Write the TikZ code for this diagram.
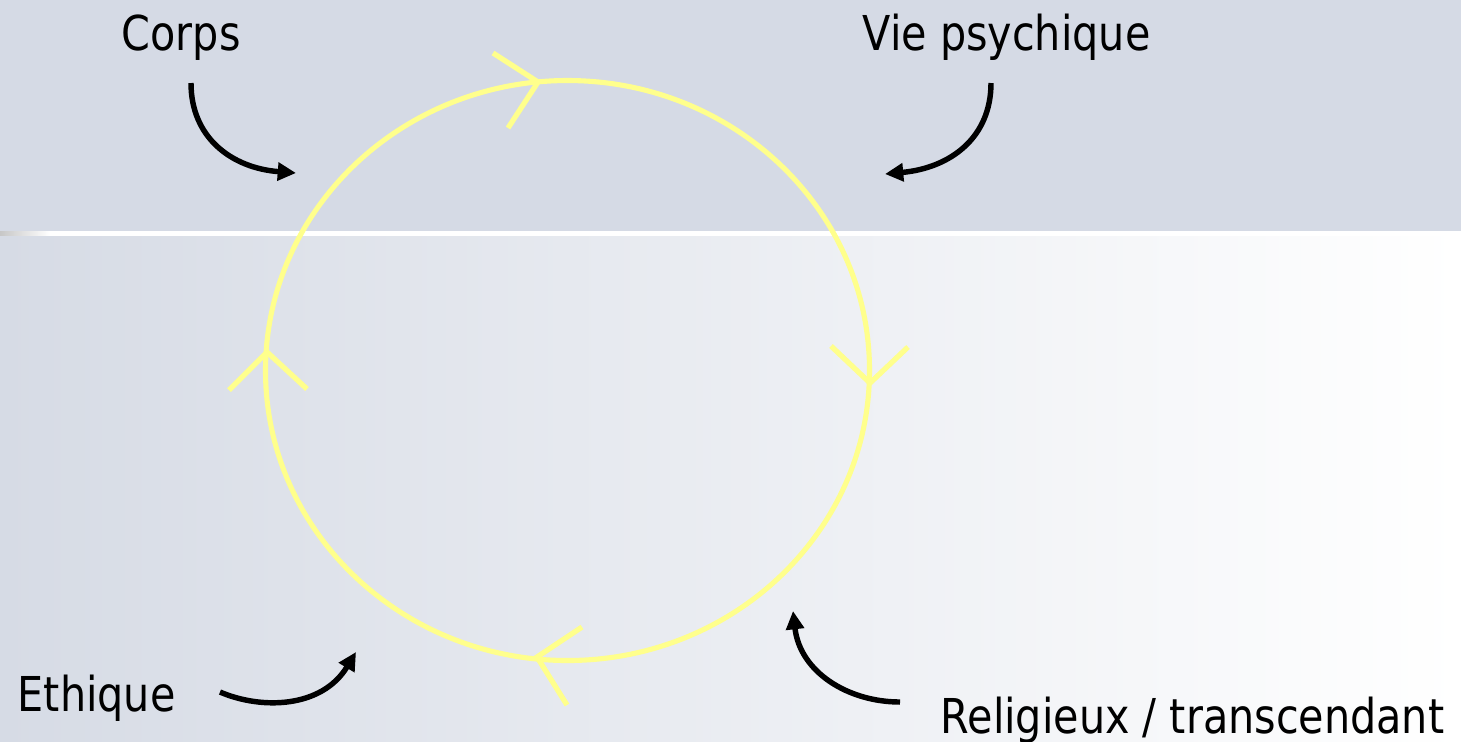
\documentclass[tikz,border=0pt]{standalone}
\usepackage{fontspec}
\setmainfont{DejaVu Sans}[FakeStretch=0.86]
\usetikzlibrary{arrows.meta}
\definecolor{bandtop}{RGB}{213,218,229}
\definecolor{bgleft}{RGB}{214,219,229}
\definecolor{cyc}{RGB}{255,255,140}
\tikzset{
  lbl/.style={anchor=base west, inner sep=0pt, text=black, font=\fontsize{13.66pt}{16pt}\selectfont},
  cycle line/.style={draw=cyc, line width=1.45pt},
  chev/.style={draw=cyc, line width=1.5pt, line join=miter},
  bend arrow/.style={draw=black, line width=1.55pt, -{Triangle[length=5.2pt,width=5pt]}}
}
\begin{document}
\begin{tikzpicture}[x=0.01cm, y=-0.01cm]
\useasboundingbox (0,0) rectangle (1461,741);
% background
\fill[bandtop] (0,0) rectangle (1461,231.5);
\shade[left color=bgleft, right color=white] (0,235) rectangle (1461,741);
\shade[left color=black!22, right color=white] (0,231) rectangle (50,235.5);
\fill[white] (50,231) rectangle (1461,235.5);
% cycle
\coordinate (ctr) at (567.5,370.5);
\draw[cycle line] (ctr) ellipse [x radius=302, y radius=290];
% chevrons
\coordinate (t1) at (493,53); \coordinate (t0) at (538,82); \coordinate (t2) at (508,128);
\coordinate (r1) at (831,346); \coordinate (r0) at (870,383); \coordinate (r2) at (908,347);
\coordinate (b1) at (582,627); \coordinate (b0) at (537,657); \coordinate (b2) at (567,705);
\coordinate (l1) at (229,390); \coordinate (l0) at (267,352); \coordinate (l2) at (307,389);
\draw[chev] (t1) -- (t0) -- (t2);
\draw[chev] (r1) -- (r0) -- (r2);
\draw[chev] (b1) -- (b0) -- (b2);
\draw[chev] (l1) -- (l0) -- (l2);
% labels
\node[lbl] (corps) at (121,50) {Corps};
\node[lbl] (vie) at (862,50) {Vie psychique};
\node[lbl] (eth) at (17,711) {Ethique};
\node[lbl] (rel) at (940,733) {Religieux / transcendant};
% curved arrows
\coordinate (a1s) at (191,83); \coordinate (a1e) at (296,173);
\coordinate (a2s) at (991,83); \coordinate (a2e) at (885,174);
\coordinate (a3s) at (220,692); \coordinate (a3e) at (356,652);
\coordinate (a4s) at (900,702); \coordinate (a4e) at (793,611);
\draw[bend arrow] (a1s) .. controls (191,138) and (232,168) .. (a1e);
\draw[bend arrow] (a2s) .. controls (991,138) and (950,168) .. (a2e);
\draw[bend arrow] (a3s) .. controls (262,710) and (322,708) .. (a3e);
\draw[bend arrow] (a4s) .. controls (848,702) and (800,672) .. (a4e);
\end{tikzpicture}
\end{document}
